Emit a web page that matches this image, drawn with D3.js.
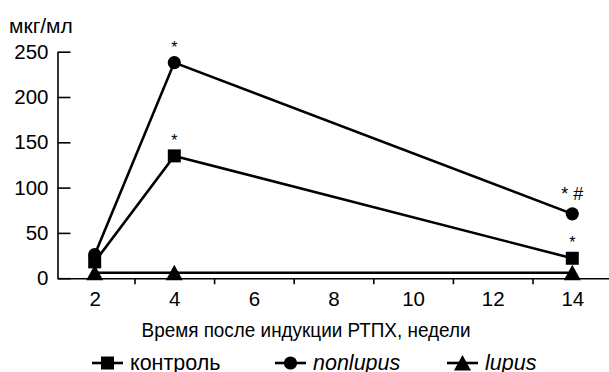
<!DOCTYPE html>
<html>
<head>
<meta charset="utf-8">
<script src="https://cdn.jsdelivr.net/npm/d3@7"></script>
<style>
  html, body { margin: 0; padding: 0; background: #fff; }
  svg { display: block; font-family: "Liberation Sans", Arial, sans-serif; }
</style>
</head>
<body>
<svg id="chart" width="609" height="372"></svg>
<script>
// ---- data ----
const weeks = [2, 4, 14];
const kontrol = [18, 135, 22];
const nonlupus = [26, 238, 71];
const lupus = [6, 6, 6];
const yTicks = [0, 50, 100, 150, 200, 250];
const xLabels = [2, 4, 6, 8, 10, 12, 14];
const xTickMarks = [3, 5, 7, 9, 11, 13];
const seriesNames = ["контроль", "nonlupus", "lupus"];
const annotations = [
  { series: "nonlupus", week: 4, text: "*" },
  { series: "контроль", week: 4, text: "*" },
  { series: "nonlupus", week: 14, text: "* #" },
  { series: "контроль", week: 14, text: "*" }
];
const yUnit = "мкг/мл";
const xTitle = "Время после индукции РТПХ, недели";

// ---- setup ----
const svg = d3.select("#chart");
const x = d3.scaleLinear().domain([2, 14]).range([94.7, 572.3]);
const y = d3.scaleLinear().domain([0, 250]).range([278.2, 51.7]);
const axisX0 = 57.5;

const series = [
  { name: seriesNames[0], values: kontrol, shape: "square", italic: false },
  { name: seriesNames[1], values: nonlupus, shape: "circle", italic: true },
  { name: seriesNames[2], values: lupus, shape: "triangle", italic: true }
];

function markerPath(shape) {
  if (shape === "circle") return d3.symbol(d3.symbolCircle, Math.PI * 6.6 * 6.6)();
  if (shape === "square") return d3.symbol(d3.symbolSquare, 13 * 13)();
  // triangle with bounding box centered on the point
  return "M0,-8L8.5,7.5L-8.5,7.5Z";
}

// ---- y axis ----
const gy = svg.append("g").attr("transform", `translate(${axisX0},0)`)
  .call(d3.axisLeft(y).tickValues(yTicks).tickSize(-13).tickPadding(9).tickSizeOuter(0));
gy.select(".domain").attr("stroke", "#000").attr("stroke-width", 1.6);
gy.selectAll(".tick line").attr("stroke", "#000").attr("stroke-width", 1.6);
gy.selectAll(".tick text").attr("font-size", 20.5).attr("fill", "#000")
  .attr("font-family", "Liberation Sans, Arial, sans-serif");

// ---- x axis ----
const xAxisY = y(0);
const xFull = d3.scaleLinear().domain([x.invert(axisX0), x.invert(609)]).range([axisX0, 609]);
const gx = svg.append("g").attr("transform", `translate(0,${xAxisY})`)
  .call(d3.axisBottom(xFull).tickValues(xTickMarks).tickSize(6).tickFormat("").tickSizeOuter(0));
gx.select(".domain").attr("stroke", "#000").attr("stroke-width", 1.6);
gx.selectAll(".tick line").attr("stroke", "#000").attr("stroke-width", 1.6);

const gxl = svg.append("g").attr("transform", `translate(0,${xAxisY})`)
  .call(d3.axisBottom(x).tickValues(xLabels).tickSize(0).tickPadding(13));
gxl.select(".domain").remove();
gxl.selectAll(".tick text").attr("font-size", 20.5).attr("fill", "#000")
  .attr("font-family", "Liberation Sans, Arial, sans-serif");

// ---- titles ----
svg.append("text").attr("x", 9).attr("y", 33).attr("font-size", 21).text(yUnit);
svg.append("text").attr("transform", "translate(306,337) scale(0.9,1)")
  .attr("text-anchor", "middle").attr("font-size", 21).text(xTitle);

// ---- lines ----
const line = d3.line().x((d, i) => x(weeks[i])).y(d => y(d));
series.forEach(s => {
  svg.append("path").attr("d", line(s.values)).attr("fill", "none")
    .attr("stroke", "#000").attr("stroke-width", 2.6);
});
// draw markers (lupus last so it sits on top)
[series[1], series[0], series[2]].forEach(s => {
  svg.append("g").selectAll("path").data(s.values).join("path")
    .attr("transform", (d, i) => `translate(${x(weeks[i])},${y(d)})`)
    .attr("d", markerPath(s.shape)).attr("fill", "#000");
});

// ---- annotations ----
annotations.forEach(a => {
  const s = series.find(t => t.name === a.series);
  const v = s.values[weeks.indexOf(a.week)];
  svg.append("text").attr("x", x(a.week)).attr("y", y(v) - (a.text.length > 1 ? 14 : 10))
    .attr("text-anchor", "middle").attr("font-size", a.text.length > 1 ? 18 : 16).text(a.text);
});

// ---- legend ----
const legendY = 363;
const legendX = [92, 275, 447];
series.forEach((s, i) => {
  const g = svg.append("g").attr("transform", `translate(${legendX[i]},${legendY})`);
  g.append("line").attr("x1", 0).attr("x2", 31).attr("stroke", "#000").attr("stroke-width", 2.6);
  g.append("path").attr("transform", "translate(15.5,0)").attr("d", markerPath(s.shape)).attr("fill", "#000");
  g.append("text").attr("x", 38).attr("y", 7).attr("font-size", 21.5)
    .attr("font-style", s.italic ? "italic" : "normal").text(s.name);
});
</script>
</body>
</html>
